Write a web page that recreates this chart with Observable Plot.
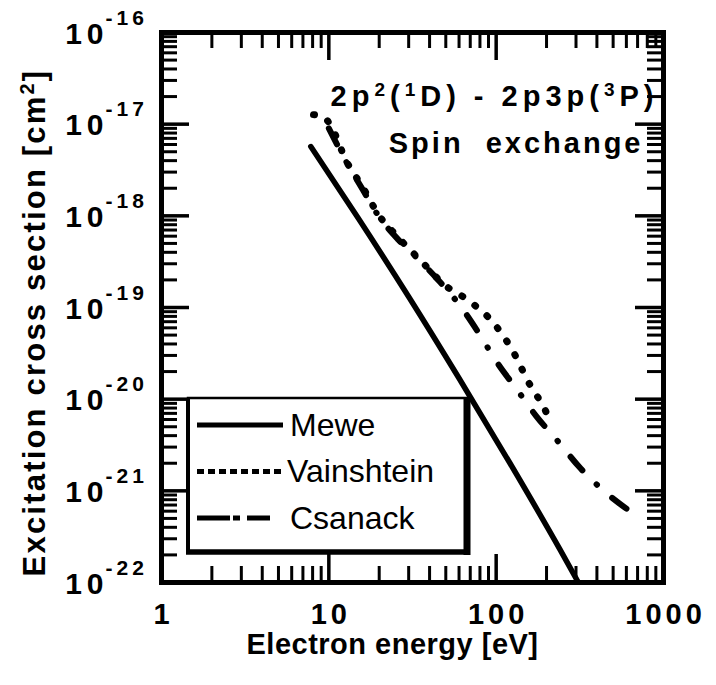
<!DOCTYPE html>
<html><head><meta charset="utf-8">
<script src="https://cdn.jsdelivr.net/npm/d3@7"></script>
<script src="https://cdn.jsdelivr.net/npm/@observablehq/plot@0.6"></script>
<style>
body{margin:0;background:#fff}
svg text[aria-label="ten"]{letter-spacing:5px}
svg text[aria-label="exp"]{letter-spacing:4px}
svg text[aria-label="xl"]{letter-spacing:4px}
svg text[aria-label="ttl1"]{letter-spacing:5px}
svg text[aria-label="ttl"]{letter-spacing:3px}
svg text[aria-label="xt"]{letter-spacing:0.5px}
svg text[aria-label="yt"]{letter-spacing:2.2px}
</style></head><body><div id="chart"></div>
<script>
// ---- data ----
const meweEnergy = [7.8, 15, 30, 60, 120, 240, 310];
const meweSigma  = [5.7e-18, 9.4e-19, 1.31e-19, 1.69e-20, 2.05e-21, 2.31e-22, 1.0e-22];

const vainEnergy = [8.1, 9.4, 10.7, 12.6, 15.9, 19.8, 25.8, 36.3, 48.5, 70.3, 99, 130, 154, 192, 215];
const vainSigma  = [1.27e-17, 1.18e-17, 8.3e-18, 4.1e-18, 2.07e-18, 1.03e-18, 5.9e-19, 3.1e-19, 1.8e-19, 1.15e-19, 6.4e-20, 3.0e-20, 1.6e-20, 8.2e-21, 5.4e-21];

const csanEnergy = [10, 12.6, 15.9, 19.8, 26, 33, 45, 62, 78.5, 100, 134, 174, 233, 319, 451, 730];
const csanSigma  = [9e-18, 4e-18, 1.95e-18, 1e-18, 5.5e-19, 3.6e-19, 2e-19, 1.0e-19, 5.3e-20, 2.6e-20, 1.25e-20, 6.5e-21, 3.5e-21, 1.76e-21, 9.6e-22, 5e-22];

const xMajor = [1, 10, 100, 1000];
const xTickLabels = ["1", "10", "100", "1000"];
const yMajor = [1e-16, 1e-17, 1e-18, 1e-19, 1e-20, 1e-21, 1e-22];
const yExponents = ["-16", "-17", "-18", "-19", "-20", "-21", "-22"];
const minorSteps = [2, 3, 4, 5, 6, 7, 8, 9];

const legendLabels = ["Mewe", "Vainshtein", "Csanack"];
// "^x" marks a superscript character
const titleLine1 = "2p^2(^1D) - 2p3p(^3P)";
const titleLine2 = "Spin  exchange";
const xTitle = "Electron energy [eV]";
const yTitle = "Excitation cross section [cm^2]";

// ---- derived tables ----
const rows = (E, S) => E.map((e, i) => ({E: e, s: S[i]}));
const mewe = rows(meweEnergy, meweSigma);
const vain = rows(vainEnergy, vainSigma);
const csan = rows(csanEnergy, csanSigma);
const xMinor = [1, 10, 100].flatMap(d => minorSteps.map(m => m * d));
const yMinor = yMajor.slice(1).flatMap(d => minorSteps.map(m => m * d));
const xLab = xMajor.map((v, i) => ({v, label: xTickLabels[i]}));
const yLab = yMajor.map((v, i) => ({v, label: yExponents[i]}));

const W = 716, H = 685, mL = 161, mR = 53, mT = 32, mB = 103;
const pW = W - mL - mR, pH = H - mT - mB;
const bold = {fontWeight: "bold", fill: "#000"};

const chart = Plot.plot({
  width: W, height: H,
  marginLeft: mL, marginRight: mR, marginTop: mT, marginBottom: mB,
  x: {type: "log", domain: [1, 1000], axis: null},
  y: {type: "log", domain: [1e-22, 1e-16], axis: null},
  style: {fontFamily: "'Liberation Sans', Arial, sans-serif", background: "#fff", color: "#000", overflow: "visible"},
  marks: [
    // inward ticks
    Plot.tickX(xMinor, {x: d => d, insetTop: pH - 16, stroke: "#000", strokeWidth: 3}),
    Plot.tickX(xMinor, {x: d => d, insetBottom: pH - 16, stroke: "#000", strokeWidth: 3}),
    Plot.tickX(xMajor, {x: d => d, insetTop: pH - 28, stroke: "#000", strokeWidth: 3.5}),
    Plot.tickX(xMajor, {x: d => d, insetBottom: pH - 28, stroke: "#000", strokeWidth: 3.5}),
    Plot.tickY(yMinor, {y: d => d, insetRight: pW - 16, stroke: "#000", strokeWidth: 3}),
    Plot.tickY(yMinor, {y: d => d, insetLeft: pW - 16, stroke: "#000", strokeWidth: 3}),
    Plot.tickY(yMajor, {y: d => d, insetRight: pW - 28, stroke: "#000", strokeWidth: 3.5}),
    Plot.tickY(yMajor, {y: d => d, insetLeft: pW - 28, stroke: "#000", strokeWidth: 3.5}),
    // curves
    Plot.line(csan, {x: "E", y: "s", stroke: "#000", strokeWidth: 6, strokeLinecap: "round", strokeDasharray: "18 20 0.5 20", curve: "monotone-x", clip: true}),
    Plot.line(vain, {x: "E", y: "s", stroke: "#000", strokeWidth: 7, strokeLinecap: "round", strokeDasharray: "1 15", curve: "monotone-x", clip: true}),
    Plot.line(mewe, {x: "E", y: "s", stroke: "#000", strokeWidth: 5.5, curve: "monotone-x", clip: true}),
    // tick labels
    Plot.text(yLab, {y: "v", frameAnchor: "left", text: () => "10", textAnchor: "end", lineAnchor: "bottom", dx: -53, dy: 11, fontSize: 30, ariaLabel: () => "ten", ...bold}),
    Plot.text(yLab, {y: "v", frameAnchor: "left", text: "label", textAnchor: "start", lineAnchor: "bottom", dx: -56, dy: -8, fontSize: 21, ariaLabel: () => "exp", ...bold}),
    Plot.text(xLab, {x: "v", frameAnchor: "bottom", text: "label", lineAnchor: "bottom", dx: 2, dy: 41, fontSize: 29, ariaLabel: () => "xl", ...bold}),
    // titles
    Plot.text([titleLine1], {frameAnchor: "top-right", text: d => d, textAnchor: "end", lineAnchor: "bottom", dx: -5, dy: 73, fontSize: 29, ariaLabel: () => "ttl1", ...bold}),
    Plot.text([titleLine2], {frameAnchor: "top-right", text: d => d, textAnchor: "end", lineAnchor: "bottom", dx: -20, dy: 120, fontSize: 29, ariaLabel: () => "ttl", ...bold}),
    Plot.text([xTitle], {frameAnchor: "bottom", text: d => d, lineAnchor: "bottom", textAnchor: "middle", dx: -20, dy: 71, fontSize: 29, ariaLabel: () => "xt", ...bold}),
    Plot.text([yTitle], {frameAnchor: "left", text: d => d, rotate: -90, textAnchor: "middle", lineAnchor: "bottom", dx: -117, dy: 15, fontSize: 31, ariaLabel: () => "yt", ...bold}),
    Plot.frame({stroke: "#000", strokeWidth: 5})
  ]
});
document.getElementById("chart").append(chart);

const svg = d3.select(chart.tagName.toLowerCase() === "svg" ? chart : chart.querySelector("svg"));

// ---- superscripts ("^x") as tspans ----
svg.selectAll("text").each(function () {
  const s = this.textContent;
  if (!s.includes("^")) return;
  const fs = parseFloat(getComputedStyle(this).fontSize) || 29;
  const supSize = Math.round(fs * 0.64), shift = Math.round(fs * 0.36);
  this.textContent = "";
  const t = d3.select(this);
  let buf = "", raised = false;
  const flush = () => { if (buf) { t.append("tspan").attr("dy", raised ? shift : null).text(buf); raised = false; buf = ""; } };
  for (let i = 0; i < s.length; i++) {
    if (s[i] === "^" && i + 1 < s.length) {
      flush();
      t.append("tspan").attr("dy", -shift).attr("font-size", supSize).text(s[i + 1]);
      raised = true; i++;
    } else buf += s[i];
  }
  flush();
});

// ---- legend box (inside plot, lower left) ----
const lg = svg.append("g").attr("class", "legend");
const bx = 188, by = 398, bw = 279, bh = 154;
lg.append("rect").attr("x", bx).attr("y", by).attr("width", bw).attr("height", bh)
  .attr("fill", "#fff").attr("stroke", "#000").attr("stroke-width", 2.5);
lg.append("line").attr("x1", bx).attr("x2", bx).attr("y1", by).attr("y2", by + bh).attr("stroke", "#000").attr("stroke-width", 4);
lg.append("line").attr("x1", bx + bw).attr("x2", bx + bw).attr("y1", by).attr("y2", by + bh + 3).attr("stroke", "#000").attr("stroke-width", 7);
lg.append("line").attr("x1", bx - 2).attr("x2", bx + bw + 3).attr("y1", by + bh).attr("y2", by + bh).attr("stroke", "#000").attr("stroke-width", 5.5);
const sampleStyles = [
  {dash: null, w: 5},
  {dash: "7 4", w: 5},
  {dash: "33 3 7 7 23", w: 5}
];
legendLabels.forEach((lab, i) => {
  const yy = 425 + i * 46.5;
  lg.append("line").attr("x1", 197).attr("x2", i === 2 ? 270 : 283).attr("y1", yy).attr("y2", yy)
    .attr("stroke", "#000").attr("stroke-width", sampleStyles[i].w)
    .attr("stroke-dasharray", sampleStyles[i].dash);
  lg.append("text").attr("x", i === 1 ? 287 : 290).attr("y", yy + 10.5)
    .attr("text-anchor", "start")
    .attr("font-size", 32).attr("font-family", "'Liberation Sans', Arial, sans-serif")
    .attr("fill", "#000").text(lab);
});
</script></body></html>
